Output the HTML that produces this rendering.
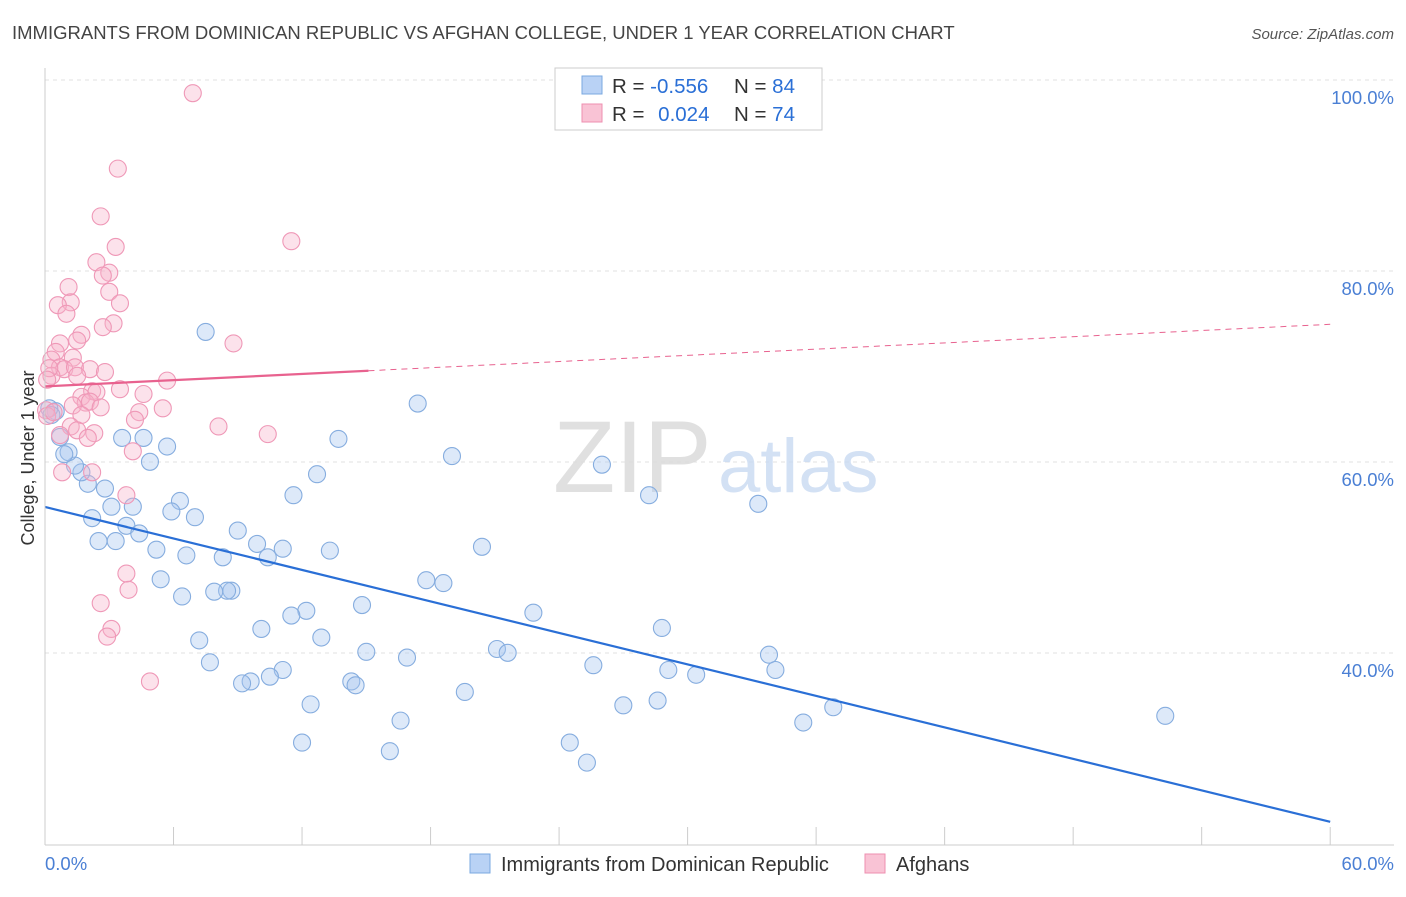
<!DOCTYPE html>
<html><head><meta charset="utf-8">
<style>
body{margin:0;background:#fff;font-family:"Liberation Sans",sans-serif;}
svg text{font-family:"Liberation Sans",sans-serif;}
</style></head>
<body>
<svg id="chart" width="1406" height="892" xmlns="http://www.w3.org/2000/svg">
<text x="12" y="39" font-size="18.5" fill="#444">IMMIGRANTS FROM DOMINICAN REPUBLIC VS AFGHAN COLLEGE, UNDER 1 YEAR CORRELATION CHART</text>
<text x="1394" y="39" font-size="15" fill="#555" font-style="italic" text-anchor="end">Source: ZipAtlas.com</text>
<g id="grid"></g>
<text x="553" y="492" font-size="102" fill="#ddd" font-family="Liberation Serif" opacity="0.9">ZIP</text>
<text x="718" y="492" font-size="76" fill="#c9daf2" opacity="0.8">atlas</text>
<g id="points"></g>
<g id="trends"></g>
<line x1="45" y1="68" x2="45" y2="845" stroke="#ccc"/>
<line x1="45" y1="845" x2="1394" y2="845" stroke="#ccc"/>
<g id="ticks"></g>
<text transform="translate(34,458) rotate(-90)" font-size="18" fill="#333" text-anchor="middle">College, Under 1 year</text>
<text x="45" y="870" font-size="18.5" fill="#4a7fd4">0.0%</text>
<text x="1394" y="870" font-size="18.5" fill="#4a7fd4" text-anchor="end">60.0%</text>
<g>
<rect x="555" y="68" width="267" height="62" fill="#fff" stroke="#ccc"/>
<rect x="582" y="76" width="20" height="18" fill="#b9d2f5" stroke="#7aa8e0"/>
<rect x="582" y="104" width="20" height="18" fill="#f9c3d5" stroke="#ee8fb0"/>
<text x="612" y="93" font-size="20.5" fill="#333">R = <tspan fill="#2a6fd6">-0.556</tspan></text>
<text x="734" y="93" font-size="20.5" fill="#333">N = <tspan fill="#2a6fd6">84</tspan></text>
<text x="612" y="121" font-size="20.5" fill="#333">R = <tspan fill="#2a6fd6" dx="8">0.024</tspan></text>
<text x="734" y="121" font-size="20.5" fill="#333">N = <tspan fill="#2a6fd6">74</tspan></text>
</g>
<g>
<rect x="470" y="854" width="20" height="19" fill="#b9d2f5" stroke="#7aa8e0"/>
<text x="501" y="871" font-size="20" fill="#333">Immigrants from Dominican Republic</text>
<rect x="865" y="854" width="20" height="19" fill="#f9c3d5" stroke="#ee8fb0"/>
<text x="896" y="871" font-size="20" fill="#333">Afghans</text>
</g>
</svg>
<script>
const yTicks=[100,80,60,40];
const yTickLabels=["100.0%","80.0%","60.0%","40.0%"];
const xTicks=[0,6,12,18,24,30,36,42,48,54,60];
const blueX=[7.5,17.4,19.0,26.0,28.2,33.3,13.7,12.7,11.6,20.4,17.8,18.6,22.8,21.1,21.6,25.6,28.8,29.1,30.4,33.8,34.1,27.0,28.6,35.4,36.8,52.3,24.5,25.3,16.1,16.6,19.6,16.9,15.0,14.8,14.3,14.5,12.9,12.2,11.5,12.4,12.0,11.1,10.5,10.1,9.6,9.2,8.7,8.5,7.9,7.7,7.2,8.3,9.0,9.9,10.4,11.1,13.3,7.0,6.3,5.9,6.6,5.4,6.4,5.2,4.9,4.6,5.7,3.6,3.8,4.4,4.1,3.1,3.3,2.5,2.2,2.8,2.0,1.7,1.4,1.1,0.9,0.7,0.5,0.2,0.3];
const blueY=[75.4,67.9,62.4,61.5,58.3,57.4,64.2,60.5,58.3,52.9,49.4,49.1,46.0,42.2,41.8,40.5,44.4,40.0,39.5,41.6,40.0,36.3,36.8,34.5,36.1,35.2,32.4,30.3,31.5,34.7,37.7,41.3,41.9,46.8,38.8,38.4,43.4,46.2,45.7,36.4,32.4,40.0,39.3,44.3,38.8,38.6,48.3,48.3,48.2,40.8,43.1,51.8,54.6,53.2,51.8,52.7,52.5,56.0,57.7,56.6,52.0,49.5,47.7,52.6,61.8,64.3,63.4,64.3,55.1,54.3,57.1,57.1,53.5,53.5,55.9,59.0,59.5,60.7,61.4,62.8,62.6,64.4,67.1,67.4,66.7];
const pinkX=[6.9,3.4,2.6,11.5,3.3,2.4,3.0,2.7,3.0,1.1,1.2,0.6,3.5,1.0,3.2,2.7,8.8,1.7,1.5,0.7,0.5,0.3,1.3,0.7,0.9,1.4,2.1,2.8,1.5,0.3,5.7,2.2,2.4,3.5,4.6,1.7,1.9,2.1,1.3,2.6,5.5,4.4,1.7,4.2,8.1,1.2,1.5,2.3,0.7,2.0,10.4,4.1,0.8,2.2,3.8,3.8,3.9,2.6,3.1,2.9,4.9,0.05,0.1,0.4,0.2,0.1];
const pinkY=[100.4,92.5,87.5,84.9,84.3,82.7,81.6,81.3,79.6,80.1,78.5,78.2,78.4,77.3,76.3,75.9,74.2,75.1,74.5,74.2,73.3,72.5,72.7,71.7,71.5,71.7,71.5,71.2,70.8,70.8,70.3,69.2,69.1,69.4,68.9,68.6,68.0,68.1,67.7,67.5,67.4,67.0,66.7,66.2,65.5,65.5,65.1,64.8,64.6,64.3,64.7,62.9,60.7,60.7,58.3,50.1,48.4,47.0,44.3,43.5,38.8,67.2,66.6,67.0,71.6,70.4];
const blueTrend=[57.07,24.1];
const pinkTrend=[69.7,76.2];
const pinkSolidEnd=15.1;
const NS="http://www.w3.org/2000/svg";
const sx=v=>45+v*21.42;
const sy=v=>1052-v*9.55;
function mk(tag,attrs,parent){const e=document.createElementNS(NS,tag);for(const k in attrs)e.setAttribute(k,attrs[k]);parent.appendChild(e);return e;}
const grid=document.getElementById('grid');
yTicks.forEach((t,i)=>{
  const l=mk('line',{x1:45,x2:1394,y1:sy(t)-17,y2:sy(t)-17,stroke:'#e2e2e2','stroke-dasharray':'4,4'},grid);
  
  
  const tx=mk('text',{x:1394,y:sy(t)+7,'font-size':18.5,fill:'#4a7fd4','text-anchor':'end'},grid);
  tx.textContent=yTickLabels[i];
  
  
});
const ticks=document.getElementById('ticks');
xTicks.forEach(t=>{
  const l=mk('line',{x1:sx(t),x2:sx(t),y1:827,y2:845,stroke:'#ccc'},ticks);
  
  
});
const pts=document.getElementById('points');
blueX.forEach((x,i)=>{
  const c=mk('circle',{cx:sx(x),cy:sy(blueY[i]),r:8.5,fill:'rgba(165,198,240,0.38)',stroke:'#86addf','stroke-width':1.1},pts);
  
  
});
pinkX.forEach((x,i)=>{
  const c=mk('circle',{cx:sx(x),cy:sy(pinkY[i]),r:8.5,fill:'rgba(248,180,203,0.38)',stroke:'#ef98b7','stroke-width':1.1},pts);
  
  
});
const tr=document.getElementById('trends');
const bl=mk('line',{x1:sx(0),y1:sy(blueTrend[0]),x2:sx(60),y2:sy(blueTrend[1]),stroke:'#2a6fd6','stroke-width':2.2},tr);


const pAt=x=>pinkTrend[0]+(pinkTrend[1]-pinkTrend[0])*x/60;
const ps=mk('line',{x1:sx(0),y1:sy(pAt(0)),x2:sx(pinkSolidEnd),y2:sy(pAt(pinkSolidEnd)),stroke:'#e8628f','stroke-width':2.2},tr);


const pd=mk('line',{x1:sx(pinkSolidEnd),y1:sy(pAt(pinkSolidEnd)),x2:sx(60),y2:sy(pAt(60)),stroke:'#e8628f','stroke-width':1,'stroke-dasharray':'6,5'},tr);


</script>
</body></html>
